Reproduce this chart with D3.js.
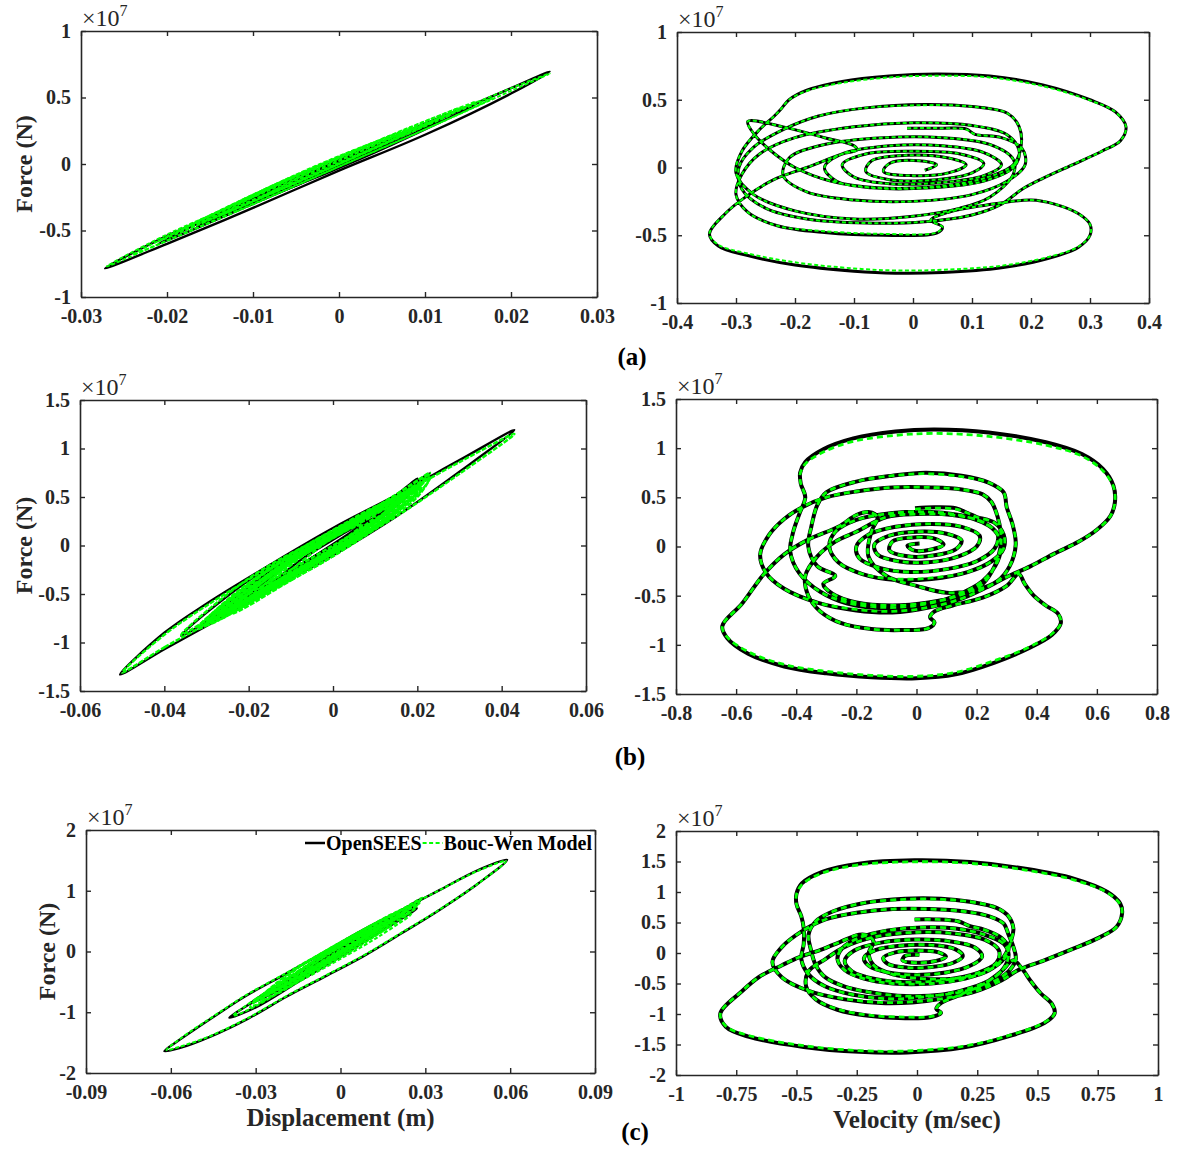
<!DOCTYPE html>
<html>
<head>
<meta charset="utf-8">
<script src="https://cdn.jsdelivr.net/npm/d3@7"></script>
<style>
  body { margin: 0; background: #ffffff; }
  svg text { font-family: "Liberation Serif", "Times New Roman", serif; }
</style>
</head>
<body>
<svg id="fig" width="1181" height="1149"></svg>
<script>
// ---------------- tick labels ----------------
const xTicksAL = ['-0.03', '-0.02', '-0.01', '0', '0.01', '0.02', '0.03'];
const xTicksAR = ['-0.4', '-0.3', '-0.2', '-0.1', '0', '0.1', '0.2', '0.3', '0.4'];
const xTicksBL = ['-0.06', '-0.04', '-0.02', '0', '0.02', '0.04', '0.06'];
const xTicksBR = ['-0.8', '-0.6', '-0.4', '-0.2', '0', '0.2', '0.4', '0.6', '0.8'];
const xTicksCL = ['-0.09', '-0.06', '-0.03', '0', '0.03', '0.06', '0.09'];
const xTicksCR = ['-1', '-0.75', '-0.5', '-0.25', '0', '0.25', '0.5', '0.75', '1'];
const yTicksA = ['-1', '-0.5', '0', '0.5', '1'];
const yTicksB = ['-1.5', '-1', '-0.5', '0', '0.5', '1', '1.5'];
const yTicksCL = ['-2', '-1', '0', '1', '2'];
const yTicksCR = ['-2', '-1.5', '-1', '-0.5', '0', '0.5', '1', '1.5', '2'];

const seriesNames = ['OpenSEES', 'Bouc-Wen Model'];
const panelTags = ['(a)', '(b)', '(c)'];

// ---------------- hysteresis loops: [displacement (m), force (x1e7 N)] ----------------
const hystA_open = [
  [[-0.0272,-0.785],[-0.02,-0.6],[-0.01,-0.33],[0.0,-0.05],[0.01,0.22],[0.02,0.53],[0.0245,0.695],[0.02,0.57],[0.01,0.29],[0.0,0.01],[-0.01,-0.27],[-0.02,-0.54]],
  [[-0.0165,-0.47],[-0.008,-0.24],[0.0,-0.03],[0.008,0.2],[0.0162,0.46],[0.008,0.25],[0.0,0.02],[-0.008,-0.2]],
  [[-0.021,-0.6],[-0.01,-0.3],[0.0,-0.02],[0.012,0.33],[0.0,0.03],[-0.01,-0.25]],
  [[-0.012,-0.35],[0.0,-0.01],[0.01,0.29],[0.0,0.03],[-0.006,-0.15]]
];
const hystA_bw = [
  [[-0.027,-0.77],[-0.02,-0.575],[-0.01,-0.3],[0.0,-0.02],[0.01,0.26],[0.02,0.55],[0.0245,0.68],[0.02,0.57],[0.01,0.3],[0.0,0.03],[-0.01,-0.25],[-0.02,-0.53]],
  [[-0.017,-0.46],[-0.008,-0.22],[0.0,0.0],[0.008,0.23],[0.016,0.47],[0.008,0.27],[0.0,0.05],[-0.008,-0.17]],
  [[-0.021,-0.58],[-0.01,-0.28],[0.0,0.01],[0.013,0.37],[0.0,0.06],[-0.01,-0.23]],
  [[-0.014,-0.39],[-0.005,-0.14],[0.005,0.14],[0.011,0.32],[0.004,0.15],[-0.005,-0.09]],
  [[-0.009,-0.25],[0.0,0.0],[0.008,0.24],[0.0,0.05],[-0.004,-0.08]],
  [[-0.019,-0.52],[-0.009,-0.24],[0.002,0.08],[0.009,0.28],[0.002,0.11],[-0.009,-0.2]],
  [[-0.024,-0.68],[-0.012,-0.36],[0.0,-0.02],[0.01,0.26],[0.018,0.5],[0.01,0.3],[0.0,0.04],[-0.012,-0.3]],
  [[-0.016,-0.44],[-0.006,-0.17],[0.004,0.12],[0.014,0.42],[0.004,0.16],[-0.006,-0.12]]
];

const hystB_open = [
  [[-0.0505,-1.33],[-0.04,-1.07],[-0.03,-0.83],[-0.015,-0.46],[0.0,-0.1],[0.015,0.3],[0.03,0.76],[0.043,1.19],[0.03,0.88],[0.015,0.52],[0.0,0.18],[-0.015,-0.2],[-0.03,-0.6],[-0.04,-0.9]],
  [[-0.036,-0.93],[-0.02,-0.52],[0.0,-0.02],[0.012,0.3],[0.023,0.745],[0.012,0.42],[0.0,0.13],[-0.02,-0.36]],
  [[-0.03,-0.78],[-0.015,-0.38],[0.0,0.0],[0.012,0.35],[0.02,0.69],[0.01,0.35],[0.0,0.1],[-0.015,-0.27]],
  [[-0.025,-0.66],[-0.01,-0.26],[0.005,0.14],[0.016,0.5],[0.005,0.22],[-0.01,-0.15]],
  [[-0.02,-0.53],[-0.007,-0.18],[0.005,0.14],[0.013,0.4],[0.004,0.18],[-0.008,-0.1]],
  [[-0.014,-0.38],[-0.004,-0.1],[0.009,0.28],[0.0,0.06],[-0.008,-0.16]]
];
const hystB_bw = [
  [[-0.05,-1.31],[-0.04,-1.05],[-0.03,-0.81],[-0.015,-0.45],[0.0,-0.08],[0.015,0.3],[0.03,0.74],[0.043,1.15],[0.03,0.86],[0.015,0.5],[0.0,0.16],[-0.015,-0.22],[-0.03,-0.62],[-0.04,-0.92]],
  [[-0.036,-0.92],[-0.02,-0.5],[0.0,0.0],[0.012,0.32],[0.023,0.75],[0.012,0.44],[0.0,0.15],[-0.02,-0.34]],
  [[-0.032,-0.84],[-0.016,-0.44],[0.0,-0.05],[0.01,0.26],[0.02,0.6],[0.01,0.38],[0.0,0.12],[-0.016,-0.27]],
  [[-0.028,-0.74],[-0.012,-0.33],[0.002,0.02],[0.018,0.55],[0.004,0.2],[-0.012,-0.2]],
  [[-0.024,-0.64],[-0.01,-0.3],[0.004,0.05],[0.015,0.45],[0.004,0.2],[-0.01,-0.16]],
  [[-0.02,-0.55],[-0.006,-0.2],[0.006,0.12],[0.013,0.38],[0.004,0.2],[-0.008,-0.12]],
  [[-0.016,-0.44],[-0.004,-0.14],[0.01,0.3],[0.002,0.14],[-0.006,-0.07]],
  [[-0.011,-0.3],[0.0,-0.02],[0.007,0.22],[0.0,0.08],[-0.005,-0.08]],
  [[-0.026,-0.72],[-0.013,-0.4],[0.0,-0.07],[0.014,0.33],[0.021,0.62],[0.012,0.4],[0.0,0.08],[-0.013,-0.26]],
  [[-0.03,-0.8],[-0.015,-0.42],[0.0,-0.06],[0.012,0.28],[0.022,0.68],[0.012,0.42],[0.0,0.14],[-0.015,-0.24]],
  [[-0.027,-0.7],[-0.012,-0.33],[0.0,-0.03],[0.012,0.3],[0.02,0.62],[0.01,0.36],[0.0,0.1],[-0.012,-0.2]],
  [[-0.022,-0.6],[-0.01,-0.3],[0.0,-0.04],[0.01,0.24],[0.017,0.5],[0.008,0.3],[0.0,0.11],[-0.01,-0.14]],
  [[-0.018,-0.5],[-0.008,-0.25],[0.0,-0.05],[0.008,0.18],[0.014,0.42],[0.006,0.26],[0.0,0.12],[-0.008,-0.1]],
  [[-0.029,-0.76],[-0.02,-0.56],[-0.01,-0.3],[0.0,-0.08],[0.01,0.2],[0.02,0.52],[0.023,0.7],[0.015,0.45],[0.005,0.2],[-0.005,-0.05],[-0.015,-0.3],[-0.025,-0.58]],
  [[-0.025,-0.68],[-0.015,-0.45],[-0.005,-0.2],[0.005,0.05],[0.015,0.35],[0.02,0.55],[0.012,0.4],[0.002,0.15],[-0.008,-0.12],[-0.018,-0.42]],
  [[-0.032,-0.86],[-0.018,-0.52],[-0.005,-0.2],[0.008,0.12],[0.02,0.5],[0.023,0.72],[0.014,0.5],[0.002,0.16],[-0.01,-0.12],[-0.022,-0.45]],
  [[-0.03,-0.82],[-0.016,-0.5],[-0.003,-0.16],[0.01,0.2],[0.02,0.56],[0.01,0.4],[-0.002,0.1],[-0.016,-0.28]],
  [[-0.028,-0.78],[-0.014,-0.45],[0.0,-0.11],[0.014,0.3],[0.021,0.6],[0.012,0.44],[0.0,0.12],[-0.014,-0.25]],
  [[-0.024,-0.7],[-0.01,-0.36],[0.004,0.0],[0.016,0.4],[0.008,0.32],[-0.004,-0.02],[-0.016,-0.32]]
];

const hystC_open = [
  [[-0.0623,-1.64],[-0.0568,-1.45],[-0.0447,-1.07],[-0.0338,-0.74],[-0.019,-0.36],[-0.0054,0.0],[0.008,0.356],[0.0217,0.685],[0.035,1.01],[0.0487,1.34],[0.0589,1.507],[0.0487,1.12],[0.035,0.685],[0.0216,0.3],[0.008,-0.08],[-0.0054,-0.41],[-0.019,-0.74],[-0.0325,-1.1],[-0.046,-1.4],[-0.057,-1.59]],
  [[-0.0393,-1.09],[-0.03,-0.8],[-0.015,-0.37],[0.0,0.06],[0.015,0.48],[0.029,0.877],[0.015,0.36],[0.0,-0.08],[-0.015,-0.5],[-0.03,-0.92]],
  [[-0.032,-0.86],[-0.015,-0.34],[0.0,0.1],[0.015,0.5],[0.027,0.71],[0.015,0.35],[0.0,-0.06],[-0.015,-0.47]],
  [[-0.026,-0.7],[-0.012,-0.26],[0.0,0.08],[0.012,0.4],[0.022,0.62],[0.012,0.3],[0.0,-0.04],[-0.012,-0.37]],
  [[-0.02,-0.55],[-0.008,-0.17],[0.004,0.17],[0.017,0.5],[0.004,0.07],[-0.008,-0.26]],
  [[-0.013,-0.37],[0.0,0.03],[0.012,0.36],[0.0,-0.04]]
];
const hystC_bw = [
  [[-0.0615,-1.62],[-0.0568,-1.44],[-0.0447,-1.06],[-0.0338,-0.73],[-0.019,-0.35],[-0.0054,0.01],[0.008,0.36],[0.0217,0.69],[0.035,1.01],[0.0487,1.33],[0.0585,1.49],[0.0487,1.12],[0.035,0.69],[0.0216,0.31],[0.008,-0.07],[-0.0054,-0.4],[-0.019,-0.73],[-0.0325,-1.09],[-0.046,-1.39],[-0.057,-1.57]],
  [[-0.038,-1.06],[-0.03,-0.78],[-0.015,-0.35],[0.0,0.08],[0.015,0.5],[0.029,0.885],[0.015,0.38],[0.0,-0.06],[-0.015,-0.48],[-0.03,-0.9]],
  [[-0.031,-0.84],[-0.015,-0.32],[0.0,0.12],[0.015,0.52],[0.027,0.73],[0.015,0.37],[0.0,-0.04],[-0.015,-0.45]],
  [[-0.029,-0.78],[-0.014,-0.3],[0.0,0.12],[0.014,0.5],[0.025,0.74],[0.014,0.38],[0.0,-0.02],[-0.014,-0.42]],
  [[-0.025,-0.68],[-0.012,-0.24],[0.0,0.1],[0.012,0.42],[0.022,0.64],[0.012,0.32],[0.0,-0.02],[-0.012,-0.35]],
  [[-0.017,-0.47],[-0.006,-0.1],[0.006,0.24],[0.015,0.47],[0.006,0.14],[-0.006,-0.2]],
  [[-0.012,-0.34],[0.0,0.04],[0.011,0.34],[0.0,-0.02]],
  [[-0.03,-0.82],[-0.018,-0.48],[-0.005,-0.12],[0.008,0.25],[0.02,0.58],[0.028,0.8],[0.018,0.6],[0.006,0.3],[-0.006,-0.02],[-0.018,-0.36]],
  [[-0.027,-0.74],[-0.013,-0.36],[0.0,0.0],[0.013,0.36],[0.024,0.66],[0.013,0.42],[0.0,0.08],[-0.013,-0.28]],
  [[-0.022,-0.62],[-0.01,-0.28],[0.002,0.06],[0.012,0.34],[0.02,0.58],[0.01,0.36],[0.0,0.1],[-0.01,-0.18]],
  [[-0.015,-0.45],[-0.005,-0.16],[0.006,0.16],[0.013,0.38],[0.005,0.2],[-0.006,-0.08]],
  [[-0.032,-0.92],[-0.018,-0.55],[-0.004,-0.18],[0.01,0.2],[0.022,0.55],[0.028,0.82],[0.02,0.66],[0.008,0.36],[-0.005,0.02],[-0.02,-0.42]],
  [[-0.028,-0.82],[-0.014,-0.48],[0.0,-0.12],[0.014,0.26],[0.025,0.62],[0.014,0.44],[0.0,0.12],[-0.014,-0.24]],
  [[-0.02,-0.62],[-0.008,-0.3],[0.005,0.04],[0.018,0.45],[0.006,0.26],[-0.008,-0.1]]
];

// ---------------- phase trajectories: [velocity (m/s), force OpenSEES, force Bouc-Wen] (x1e7 N) ----------------
const phaseA = [
  [-0.01,0.29,0.29],[0.05,0.29,0.29],[0.09,0.285,0.28],[0.105,0.245,0.245],[0.15,0.22,0.22],[0.185,0.14,0.14],
  [0.19,0.02,0.02],[0.16,-0.1,-0.1],[0.1,-0.2,-0.2],[0.0,-0.25,-0.25],[-0.1,-0.24,-0.24],[-0.18,-0.18,-0.18],
  [-0.22,-0.06,-0.06],[-0.21,0.07,0.07],[-0.15,0.17,0.17],[-0.05,0.22,0.22],[0.05,0.22,0.22],[0.13,0.17,0.17],
  [0.17,0.06,0.06],[0.17,-0.05,-0.05],[0.13,-0.22,-0.22],[0.08,-0.3,-0.3],[0.0,-0.36,-0.36],[-0.1,-0.38,-0.38],
  [-0.2,-0.32,-0.32],[-0.27,-0.2,-0.2],[-0.3,-0.04,-0.04],[-0.29,0.12,0.12],[-0.26,0.28,0.28],[-0.235,0.38,0.38],
  [-0.224,0.43,0.43],[-0.21,0.5,0.5],[-0.18,0.57,0.565],[-0.12,0.635,0.625],[-0.04,0.675,0.665],[0.04,0.69,0.678],
  [0.13,0.675,0.665],[0.22,0.61,0.6],[0.3,0.5,0.495],[0.343,0.41,0.41],[0.361,0.3,0.3],[0.352,0.2,0.2],
  [0.32,0.12,0.12],[0.27,0.02,0.02],[0.22,-0.08,-0.08],[0.185,-0.16,-0.16],[0.15,-0.27,-0.27],[0.1,-0.35,-0.35],
  [0.02,-0.4,-0.4],[-0.08,-0.41,-0.41],[-0.18,-0.38,-0.38],[-0.25,-0.3,-0.3],[-0.29,-0.16,-0.16],[-0.295,0.0,0.0],
  [-0.27,0.15,0.15],[-0.22,0.28,0.28],[-0.16,0.38,0.38],[-0.08,0.44,0.44],[0.02,0.465,0.46],[0.1,0.45,0.45],
  [0.16,0.4,0.4],[0.18,0.3,0.3],[0.183,0.15,0.15],[0.17,0.02,0.02],[0.12,-0.08,-0.08],[0.04,-0.14,-0.14],
  [-0.06,-0.15,-0.15],[-0.14,-0.1,-0.1],[-0.2,0.0,0.0],[-0.24,0.12,0.12],[-0.27,0.25,0.25],[-0.28,0.34,0.34],
  [-0.22,0.3,0.3],[-0.15,0.22,0.22],[-0.1,0.16,0.16],[-0.095,0.13,0.13],[-0.12,0.1,0.1],[-0.18,0.0,0.0],
  [-0.236,-0.09,-0.09],[-0.283,-0.215,-0.215],[-0.318,-0.34,-0.34],[-0.345,-0.49,-0.49],[-0.33,-0.58,-0.57],
  [-0.28,-0.65,-0.635],[-0.2,-0.72,-0.7],[-0.1,-0.765,-0.745],[-0.03,-0.78,-0.76],[0.05,-0.775,-0.755],
  [0.15,-0.74,-0.725],[0.23,-0.67,-0.66],[0.28,-0.59,-0.585],[0.3,-0.5,-0.5],[0.3,-0.42,-0.42],[0.28,-0.34,-0.34],
  [0.24,-0.27,-0.27],[0.2,-0.24,-0.24],[0.12,-0.28,-0.28],[0.06,-0.33,-0.33],[0.03,-0.39,-0.39],[0.05,-0.44,-0.44],
  [0.04,-0.485,-0.48],[-0.05,-0.5,-0.49],[-0.15,-0.48,-0.47],[-0.23,-0.43,-0.43],[-0.28,-0.33,-0.33],[-0.3,-0.2,-0.2],
  [-0.29,-0.05,-0.05],[-0.26,0.1,0.1],[-0.2,0.22,0.22],[-0.1,0.3,0.3],[0.0,0.33,0.33],[0.1,0.31,0.31],
  [0.16,0.24,0.24],[0.18,0.12,0.12],[0.17,0.0,0.0],[0.12,-0.1,-0.1],[0.03,-0.15,-0.15],[-0.07,-0.15,-0.15],
  [-0.13,-0.1,-0.1],[-0.15,0.0,0.0],[-0.12,0.1,0.1],[-0.04,0.16,0.16],[0.05,0.16,0.16],[0.12,0.11,0.11],
  [0.15,0.02,0.02],[0.12,-0.06,-0.06],[0.05,-0.11,-0.11],[-0.04,-0.12,-0.12],[-0.1,-0.07,-0.07],[-0.12,0.02,0.02],
  [-0.08,0.1,0.1],[0.0,0.12,0.12],[0.08,0.1,0.1],[0.12,0.03,0.03],[0.1,-0.04,-0.04],[0.04,-0.09,-0.09],
  [-0.04,-0.09,-0.09],[-0.08,-0.03,-0.03],[-0.07,0.05,0.05],[-0.01,0.09,0.09],[0.06,0.07,0.07],[0.09,0.02,0.02],
  [0.06,-0.04,-0.04],[0.0,-0.06,-0.06],[-0.05,-0.03,-0.03],[-0.04,0.03,0.03],[0.01,0.05,0.05],[0.04,0.02,0.02],
  [0.02,-0.02,-0.02]
];

const phaseB = [
  [-0.005,0.39,0.38],[0.06,0.4,0.39],[0.13,0.39,0.38],[0.17,0.34,0.34],[0.2,0.3,0.3],[0.26,0.24,0.24],
  [0.29,0.12,0.12],[0.29,-0.02,-0.02],[0.25,-0.15,-0.15],[0.17,-0.26,-0.26],[0.05,-0.33,-0.32],[-0.07,-0.34,-0.33],
  [-0.18,-0.28,-0.28],[-0.26,-0.16,-0.16],[-0.29,0.0,0.0],[-0.27,0.15,0.15],[-0.2,0.27,0.27],[-0.08,0.34,0.34],
  [0.05,0.35,0.35],[0.17,0.3,0.3],[0.25,0.19,0.19],[0.28,0.05,0.05],[0.27,-0.15,-0.15],[0.22,-0.35,-0.35],
  [0.13,-0.5,-0.5],[0.02,-0.6,-0.59],[-0.1,-0.63,-0.62],[-0.23,-0.58,-0.57],[-0.32,-0.46,-0.46],[-0.39,-0.27,-0.27],
  [-0.42,-0.05,-0.05],[-0.41,0.15,0.15],[-0.39,0.33,0.33],[-0.37,0.5,0.5],[-0.385,0.64,0.64],[-0.387,0.75,0.74],
  [-0.37,0.86,0.84],[-0.31,0.99,0.96],[-0.21,1.1,1.07],[-0.07,1.17,1.13],[0.06,1.19,1.15],[0.24,1.16,1.12],
  [0.43,1.06,1.03],[0.55,0.94,0.92],[0.62,0.79,0.77],[0.655,0.62,0.61],[0.66,0.45,0.45],[0.645,0.31,0.31],
  [0.6,0.17,0.17],[0.54,0.05,0.05],[0.46,-0.07,-0.07],[0.38,-0.2,-0.2],[0.3,-0.31,-0.31],[0.23,-0.42,-0.42],
  [0.15,-0.53,-0.53],[0.04,-0.62,-0.62],[-0.08,-0.67,-0.66],[-0.2,-0.65,-0.64],[-0.33,-0.57,-0.57],[-0.44,-0.43,-0.43],
  [-0.5,-0.27,-0.27],[-0.52,-0.08,-0.08],[-0.49,0.12,0.12],[-0.44,0.28,0.28],[-0.38,0.4,0.4],[-0.3,0.5,0.5],
  [-0.2,0.56,0.56],[-0.08,0.6,0.6],[0.05,0.6,0.6],[0.15,0.58,0.58],[0.22,0.53,0.53],[0.25,0.45,0.45],
  [0.27,0.3,0.3],[0.28,0.15,0.15],[0.28,0.0,0.0],[0.26,-0.2,-0.2],[0.22,-0.38,-0.38],[0.14,-0.5,-0.5],
  [0.04,-0.57,-0.57],[-0.08,-0.6,-0.6],[-0.2,-0.57,-0.57],[-0.28,-0.48,-0.48],[-0.31,-0.38,-0.38],[-0.27,-0.3,-0.3],
  [-0.33,-0.2,-0.2],[-0.36,0.0,0.0],[-0.35,0.2,0.2],[-0.33,0.42,0.42],[-0.3,0.55,0.55],[-0.2,0.66,0.66],
  [-0.08,0.72,0.72],[0.03,0.75,0.74],[0.15,0.72,0.71],[0.24,0.65,0.65],[0.29,0.55,0.55],[0.3,0.4,0.4],
  [0.32,0.22,0.22],[0.33,0.02,0.02],[0.31,-0.2,-0.2],[0.27,-0.35,-0.35],[0.2,-0.44,-0.44],[0.1,-0.47,-0.47],
  [0.0,-0.4,-0.4],[-0.1,-0.3,-0.3],[-0.16,-0.1,-0.1],[-0.15,0.15,0.15],[-0.13,0.3,0.3],[-0.16,0.35,0.35],
  [-0.2,0.32,0.32],[-0.26,0.2,0.2],[-0.36,0.07,0.07],[-0.44,-0.08,-0.08],[-0.51,-0.29,-0.29],[-0.58,-0.58,-0.58],
  [-0.646,-0.81,-0.81],[-0.63,-0.93,-0.92],[-0.56,-1.09,-1.07],[-0.44,-1.22,-1.2],[-0.3,-1.29,-1.27],[-0.15,-1.33,-1.31],
  [0.0,-1.34,-1.32],[0.13,-1.3,-1.28],[0.26,-1.18,-1.16],[0.37,-1.04,-1.03],[0.45,-0.9,-0.89],[0.48,-0.78,-0.78],
  [0.47,-0.68,-0.68],[0.43,-0.6,-0.6],[0.39,-0.5,-0.5],[0.36,-0.38,-0.38],[0.34,-0.28,-0.28],[0.3,-0.4,-0.4],
  [0.22,-0.52,-0.52],[0.12,-0.6,-0.6],[0.06,-0.66,-0.66],[0.045,-0.72,-0.72],[0.06,-0.77,-0.77],[0.04,-0.83,-0.83],
  [-0.05,-0.85,-0.85],[-0.15,-0.84,-0.84],[-0.25,-0.78,-0.78],[-0.32,-0.66,-0.66],[-0.36,-0.5,-0.5],[-0.37,-0.3,-0.3],
  [-0.33,-0.1,-0.1],[-0.27,0.05,0.05],[-0.2,0.15,0.15],[-0.1,0.3,0.3],[0.0,0.33,0.33],[0.12,0.32,0.32],
  [0.22,0.25,0.25],[0.27,0.12,0.12],[0.26,-0.02,-0.02],[0.2,-0.15,-0.15],[0.1,-0.23,-0.23],[-0.02,-0.26,-0.26],
  [-0.12,-0.22,-0.22],[-0.19,-0.12,-0.12],[-0.2,0.0,0.0],[-0.16,0.12,0.12],[-0.07,0.2,0.2],[0.05,0.23,0.23],
  [0.15,0.2,0.2],[0.21,0.11,0.11],[0.2,0.0,0.0],[0.14,-0.1,-0.1],[0.04,-0.16,-0.16],[-0.06,-0.15,-0.15],
  [-0.13,-0.08,-0.08],[-0.14,0.02,0.02],[-0.09,0.11,0.11],[0.0,0.15,0.15],[0.1,0.13,0.13],[0.15,0.06,0.06],
  [0.13,-0.03,-0.03],[0.06,-0.09,-0.09],[-0.03,-0.1,-0.1],[-0.09,-0.04,-0.04],[-0.08,0.05,0.05],[-0.02,0.09,0.09],
  [0.06,0.08,0.08],[0.09,0.02,0.02],[0.05,-0.03,-0.03],[-0.01,-0.04,-0.04],[-0.03,0.01,0.01],[0.01,0.03,0.03]
];

const phaseC = [
  [-0.01,0.55,0.55],[0.08,0.55,0.55],[0.17,0.52,0.52],[0.22,0.44,0.44],[0.28,0.38,0.38],[0.35,0.25,0.25],
  [0.38,0.08,0.08],[0.36,-0.1,-0.1],[0.3,-0.28,-0.28],[0.2,-0.42,-0.42],[0.06,-0.5,-0.5],[-0.1,-0.5,-0.5],
  [-0.22,-0.42,-0.42],[-0.3,-0.28,-0.28],[-0.33,-0.1,-0.1],[-0.31,0.08,0.08],[-0.24,0.25,0.25],[-0.12,0.37,0.37],
  [0.02,0.42,0.42],[0.16,0.4,0.4],[0.28,0.3,0.3],[0.36,0.15,0.15],[0.38,-0.02,-0.02],[0.36,-0.25,-0.25],
  [0.3,-0.45,-0.45],[0.18,-0.62,-0.62],[0.03,-0.72,-0.72],[-0.12,-0.75,-0.75],[-0.27,-0.68,-0.68],[-0.38,-0.55,-0.55],
  [-0.45,-0.35,-0.35],[-0.48,-0.1,-0.1],[-0.47,0.15,0.15],[-0.47,0.4,0.4],[-0.48,0.6,0.6],[-0.5,0.8,0.8],
  [-0.5,0.97,0.96],[-0.478,1.14,1.12],[-0.393,1.33,1.31],[-0.24,1.465,1.445],[-0.01,1.52,1.495],[0.22,1.49,1.47],
  [0.45,1.38,1.36],[0.65,1.22,1.2],[0.79,1.0,0.99],[0.843,0.81,0.8],[0.851,0.65,0.65],[0.828,0.43,0.43],
  [0.76,0.26,0.26],[0.636,0.05,0.05],[0.528,-0.12,-0.12],[0.42,-0.28,-0.28],[0.35,-0.45,-0.45],[0.25,-0.62,-0.62],
  [0.12,-0.74,-0.74],[-0.02,-0.81,-0.8],[-0.15,-0.82,-0.81],[-0.3,-0.76,-0.75],[-0.45,-0.62,-0.62],[-0.56,-0.4,-0.4],
  [-0.6,-0.15,-0.15],[-0.56,0.1,0.1],[-0.48,0.35,0.35],[-0.38,0.55,0.55],[-0.25,0.66,0.66],[-0.1,0.72,0.72],
  [0.05,0.72,0.72],[0.2,0.68,0.68],[0.3,0.6,0.6],[0.36,0.48,0.48],[0.38,0.3,0.3],[0.4,0.1,0.1],
  [0.41,-0.1,-0.1],[0.38,-0.3,-0.3],[0.3,-0.5,-0.5],[0.18,-0.64,-0.64],[0.05,-0.7,-0.7],[-0.08,-0.7,-0.7],
  [-0.2,-0.64,-0.64],[-0.3,-0.55,-0.55],[-0.38,-0.4,-0.4],[-0.42,-0.2,-0.2],[-0.44,0.05,0.05],[-0.45,0.3,0.3],
  [-0.42,0.52,0.52],[-0.35,0.68,0.68],[-0.22,0.82,0.82],[-0.05,0.89,0.88],[0.1,0.89,0.88],[0.22,0.84,0.84],
  [0.33,0.74,0.74],[0.38,0.6,0.6],[0.4,0.4,0.4],[0.39,0.2,0.2],[0.37,0.0,0.0],[0.33,-0.2,-0.2],
  [0.26,-0.35,-0.35],[0.15,-0.42,-0.42],[0.02,-0.42,-0.42],[-0.1,-0.35,-0.35],[-0.18,-0.2,-0.2],[-0.2,0.0,0.0],
  [-0.18,0.18,0.18],[-0.2,0.28,0.28],[-0.24,0.3,0.3],[-0.32,0.18,0.18],[-0.4,0.05,0.05],[-0.49,-0.07,-0.07],
  [-0.56,-0.2,-0.2],[-0.654,-0.39,-0.39],[-0.73,-0.64,-0.64],[-0.816,-0.99,-0.99],[-0.793,-1.21,-1.2],[-0.7,-1.37,-1.35],
  [-0.47,-1.54,-1.52],[-0.24,-1.62,-1.6],[-0.04,-1.63,-1.605],[0.19,-1.55,-1.53],[0.375,-1.37,-1.36],[0.528,-1.15,-1.14],
  [0.571,-0.99,-0.99],[0.559,-0.83,-0.83],[0.513,-0.66,-0.66],[0.47,-0.45,-0.45],[0.44,-0.28,-0.28],[0.4,-0.12,-0.12],
  [0.35,-0.3,-0.3],[0.28,-0.5,-0.5],[0.17,-0.7,-0.7],[0.1,-0.82,-0.82],[0.08,-0.92,-0.92],[0.1,-0.98,-0.98],
  [0.06,-1.05,-1.04],[-0.05,-1.07,-1.05],[-0.2,-1.03,-1.02],[-0.33,-0.93,-0.92],[-0.42,-0.76,-0.76],[-0.46,-0.55,-0.55],
  [-0.45,-0.3,-0.3],[-0.38,-0.1,-0.1],[-0.3,0.1,0.1],[-0.18,0.26,0.26],[0.0,0.34,0.34],[0.15,0.32,0.32],
  [0.28,0.22,0.22],[0.34,0.04,0.04],[0.33,-0.16,-0.16],[0.25,-0.33,-0.33],[0.12,-0.44,-0.44],[-0.03,-0.48,-0.48],
  [-0.17,-0.43,-0.43],[-0.27,-0.3,-0.3],[-0.3,-0.13,-0.13],[-0.26,0.04,0.04],[-0.15,0.17,0.17],[0.0,0.22,0.22],
  [0.14,0.19,0.19],[0.24,0.09,0.09],[0.27,-0.06,-0.06],[0.22,-0.21,-0.21],[0.12,-0.32,-0.32],[0.0,-0.36,-0.36],
  [-0.12,-0.32,-0.32],[-0.2,-0.21,-0.21],[-0.22,-0.08,-0.08],[-0.17,0.05,0.05],[-0.07,0.12,0.12],[0.06,0.13,0.13],
  [0.16,0.06,0.06],[0.19,-0.05,-0.05],[0.15,-0.16,-0.16],[0.06,-0.23,-0.23],[-0.04,-0.24,-0.24],[-0.12,-0.18,-0.18],
  [-0.14,-0.08,-0.08],[-0.09,0.01,0.01],[0.0,0.04,0.04],[0.09,0.01,0.01],[0.12,-0.06,-0.06],[0.08,-0.13,-0.13],
  [0.0,-0.16,-0.16],[-0.06,-0.12,-0.12],[-0.05,-0.05,-0.05],[0.01,-0.03,-0.03]
];

// ---------------- layout ----------------
const AXIS_COLOR = '#262626';
const OPEN_COLOR = '#000000';
const BW_COLOR = '#00ff00';

const panels = [
  { box: [81, 31, 597, 297], xt: xTicksAL, yt: yTicksA, kind: 'loops', open: hystA_open, bw: hystA_bw,
    wOpen: 2.4, wBw: 1.9, dash: '4,2', ylab: 24 },
  { box: [677, 32, 1149, 303], xt: xTicksAR, yt: yTicksA, kind: 'phase', data: phaseA,
    wOpen: 3, wBw: 2, dash: '4,2.5' },
  { box: [80, 400, 586, 691], xt: xTicksBL, yt: yTicksB, kind: 'loops', open: hystB_open, bw: hystB_bw,
    wOpen: 2.4, wBw: 2.4, dash: '5,1.5', ylab: 24 },
  { box: [676, 399, 1157, 694], xt: xTicksBR, yt: yTicksB, kind: 'phase', data: phaseB,
    wOpen: 4, wBw: 2.8, dash: '6,4' },
  { box: [86, 830, 595, 1073], xt: xTicksCL, yt: yTicksCL, kind: 'loops', open: hystC_open, bw: hystC_bw,
    wOpen: 2.4, wBw: 2.1, dash: '4,2', ylab: 47, xlabel: 'Displacement (m)', legend: true },
  { box: [676, 831, 1158, 1075], xt: xTicksCR, yt: yTicksCR, kind: 'phase', data: phaseC,
    wOpen: 4, wBw: 2.8, dash: '6,4', xlabel: 'Velocity (m/sec)' }
];

const svg = d3.select('#fig');
const defs = svg.append('defs');

function styleAxis(g) {
  g.attr('font-family', null).attr('font-size', null);
  g.select('.domain').attr('stroke', AXIS_COLOR).attr('stroke-width', 1.6);
  g.selectAll('.tick line').attr('stroke', AXIS_COLOR).attr('stroke-width', 1.4);
  g.selectAll('.tick text')
    .attr('fill', AXIS_COLOR)
    .style('font-size', '20px')
    .style('font-weight', 'bold');
}

panels.forEach((p, i) => {
  const [x0, y0, x1, y1] = p.box;
  const xVals = p.xt.map(Number), yVals = p.yt.map(Number);
  const x = d3.scaleLinear().domain(d3.extent(xVals)).range([x0, x1]);
  const y = d3.scaleLinear().domain(d3.extent(yVals)).range([y1, y0]);
  const g = svg.append('g');

  defs.append('clipPath').attr('id', 'clip' + i)
    .append('rect').attr('x', x0).attr('y', y0).attr('width', x1 - x0).attr('height', y1 - y0);
  const plot = g.append('g').attr('clip-path', `url(#clip${i})`);

  if (p.kind === 'loops') {
    const loop = d3.line().x(d => x(d[0])).y(d => y(d[1])).curve(d3.curveCatmullRomClosed.alpha(0.5));
    plot.selectAll('path.open').data(p.open).join('path').attr('class', 'open')
      .attr('d', loop).attr('fill', 'none').attr('stroke', OPEN_COLOR)
      .attr('stroke-width', p.wOpen).attr('stroke-linejoin', 'round');
    plot.selectAll('path.bw').data(p.bw).join('path').attr('class', 'bw')
      .attr('d', loop).attr('fill', 'none').attr('stroke', BW_COLOR)
      .attr('stroke-width', p.wBw).attr('stroke-dasharray', p.dash);
  } else {
    const lineOpen = d3.line().x(d => x(d[0])).y(d => y(d[1])).curve(d3.curveCatmullRom.alpha(0.5));
    const lineBw = d3.line().x(d => x(d[0])).y(d => y(d[2])).curve(d3.curveCatmullRom.alpha(0.5));
    plot.append('path').datum(p.data).attr('d', lineOpen).attr('fill', 'none')
      .attr('stroke', OPEN_COLOR).attr('stroke-width', p.wOpen).attr('stroke-linejoin', 'round');
    plot.append('path').datum(p.data).attr('d', lineBw).attr('fill', 'none')
      .attr('stroke', BW_COLOR).attr('stroke-width', p.wBw).attr('stroke-dasharray', p.dash);
  }

  // box with inward ticks on all four sides
  const fmtX = d => p.xt[xVals.indexOf(d)];
  const fmtY = d => p.yt[yVals.indexOf(d)];
  g.append('g').attr('transform', `translate(0,${y1})`)
    .call(d3.axisBottom(x).tickValues(xVals).tickFormat(fmtX).tickSizeInner(-5).tickSizeOuter(0).tickPadding(12))
    .call(styleAxis);
  g.append('g').attr('transform', `translate(0,${y0})`)
    .call(d3.axisTop(x).tickValues(xVals).tickFormat('').tickSizeInner(-5).tickSizeOuter(0))
    .call(styleAxis);
  g.append('g').attr('transform', `translate(${x0},0)`)
    .call(d3.axisLeft(y).tickValues(yVals).tickFormat(fmtY).tickSizeInner(-5).tickSizeOuter(0).tickPadding(10))
    .call(styleAxis);
  g.append('g').attr('transform', `translate(${x1},0)`)
    .call(d3.axisRight(y).tickValues(yVals).tickFormat('').tickSizeInner(-5).tickSizeOuter(0))
    .call(styleAxis);

  // exponent label
  const ex = g.append('text').attr('x', x0 + 1).attr('y', y0 - 5)
    .attr('fill', AXIS_COLOR).style('font-size', '24px');
  ex.append('tspan').text('\u00d710');
  ex.append('tspan').attr('dy', -10).style('font-size', '16px').text('7');

  if (p.ylab !== undefined) {
    g.append('text').attr('transform', `translate(${p.ylab + 8},${(y0 + y1) / 2}) rotate(-90)`)
      .attr('text-anchor', 'middle').attr('fill', AXIS_COLOR)
      .style('font-size', '24px').style('font-weight', 'bold').text('Force (N)');
  }
  if (p.xlabel) {
    g.append('text').attr('x', (x0 + x1) / 2).attr('y', y1 + 53)
      .attr('text-anchor', 'middle').attr('fill', AXIS_COLOR)
      .style('font-size', '25px').style('font-weight', 'bold').text(p.xlabel);
  }

  if (p.legend) {
    const lg = g.append('g');
    const ly = y0 + 13;
    let cx = 305;
    lg.append('line').attr('x1', cx).attr('x2', cx + 20).attr('y1', ly).attr('y2', ly)
      .attr('stroke', OPEN_COLOR).attr('stroke-width', 2.5);
    const t1 = lg.append('text').attr('x', cx + 21).attr('y', ly + 7).attr('fill', '#000')
      .style('font-size', '20px').style('font-weight', 'bold').text(seriesNames[0]);
    cx = cx + 21 + t1.node().getComputedTextLength() + 1;
    lg.append('line').attr('x1', cx).attr('x2', cx + 20).attr('y1', ly).attr('y2', ly)
      .attr('stroke', BW_COLOR).attr('stroke-width', 2).attr('stroke-dasharray', '4,2.5');
    lg.append('text').attr('x', cx + 21).attr('y', ly + 7).attr('fill', '#000')
      .style('font-size', '20px').style('font-weight', 'bold').text(seriesNames[1]);
  }
});

// subfigure tags
const tagPos = [[632, 365], [630, 765], [635, 1140]];
panelTags.forEach((t, i) => {
  svg.append('text').attr('x', tagPos[i][0]).attr('y', tagPos[i][1]).attr('text-anchor', 'middle')
    .attr('fill', '#000').style('font-size', '25px').style('font-weight', 'bold').text(t);
});
</script>
</body>
</html>
